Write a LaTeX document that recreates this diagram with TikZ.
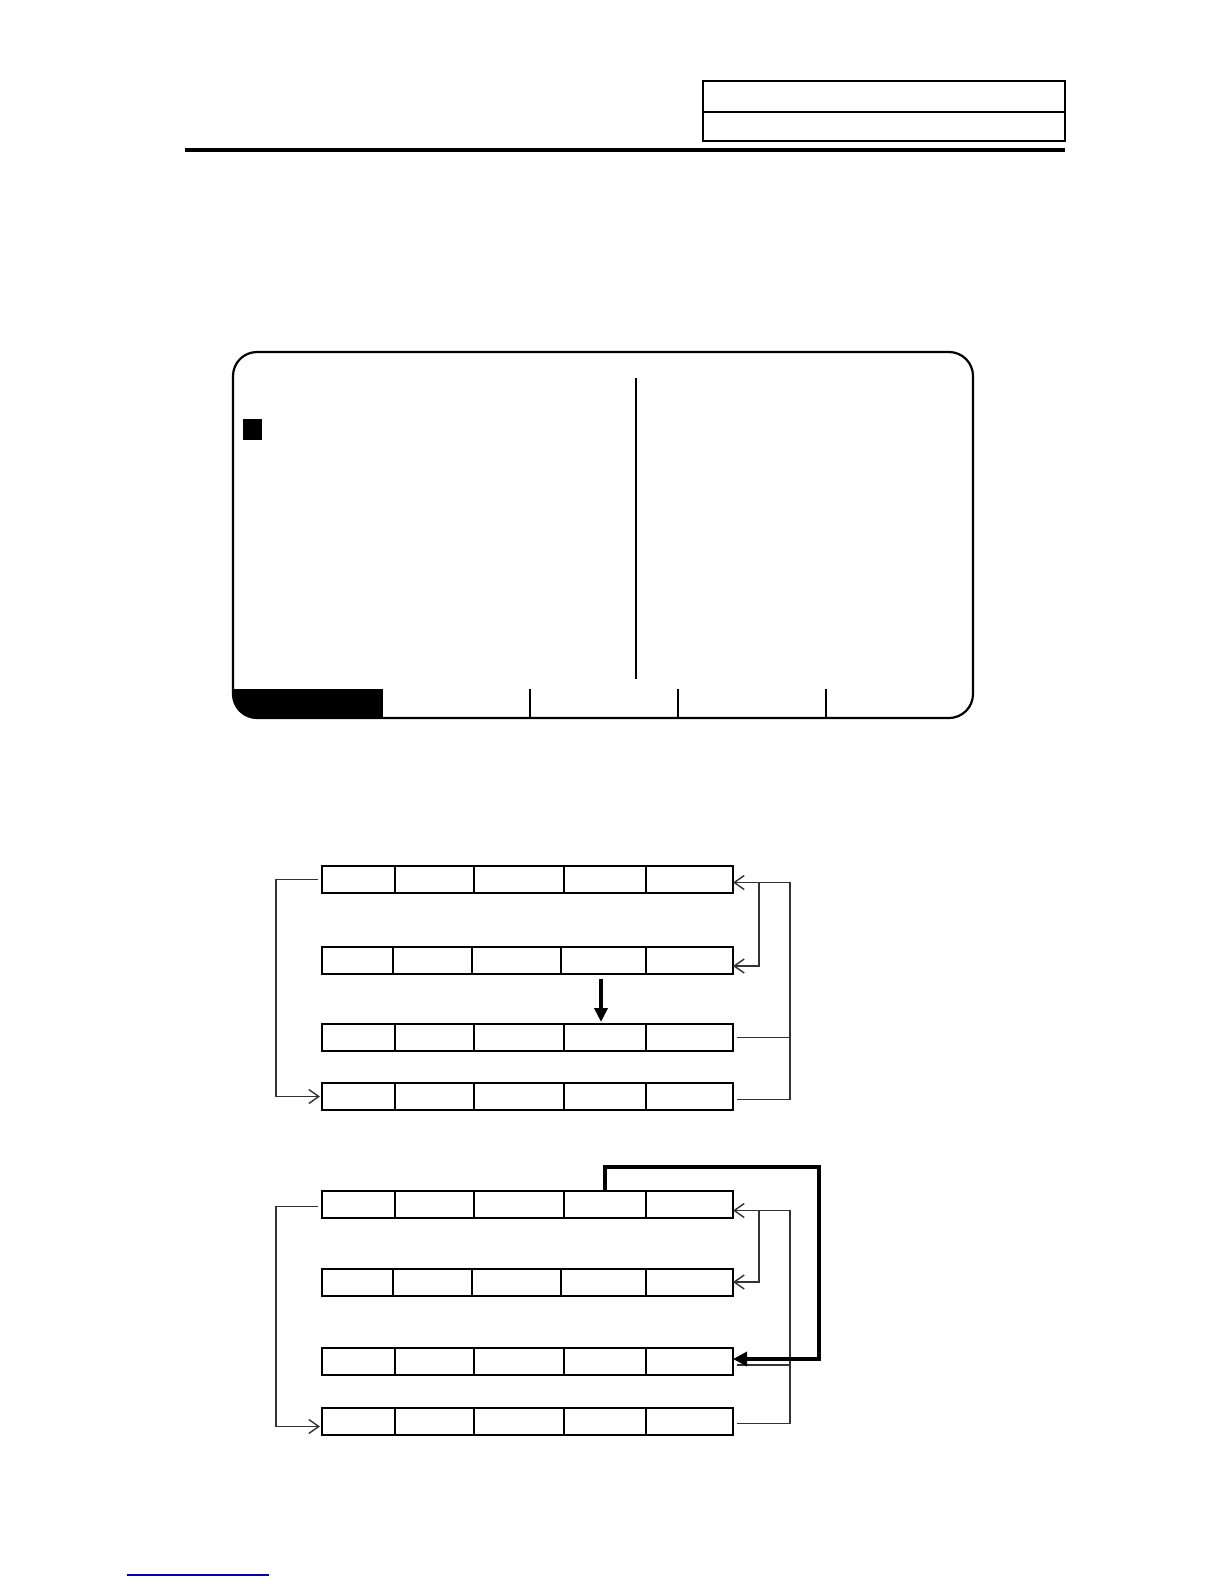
\documentclass[tikz,border=0pt]{standalone}
\usetikzlibrary{arrows.meta}

\begin{document}
\begin{tikzpicture}[
		x=0.5pt, y=-0.5pt,
		>={Straight Barb[length=5pt,width=7pt]},
		every row/.style={draw,line width=1pt,inner sep=0pt,outer sep=0pt,minimum width=205.5pt,minimum height=13.5pt},
		cell/.style={line width=0.9pt},
		link/.style={line width=0.7pt,black!80},
		fatlink/.style={line width=1.7pt,-{Triangle[length=7pt,width=7pt]}},
		downarrow/.style={line width=2pt,-{Triangle[length=7pt,width=6.5pt]}}
	]
		\useasboundingbox (0,0) rectangle (1224,1584);

		% Header
		\draw[line width=1pt] (703,81) rectangle (1065,141);
		\draw[line width=1pt] (703,112) -- (1065,112);
		\draw[line width=1.8pt] (185,150) -- (1065,150);

		% Screen
		\begin{scope}
			\clip[rounded corners=12pt] (233,352) rectangle (973,718);
			\fill (233,689) rectangle (383,718);
		\end{scope}
		\draw[line width=1.1pt,rounded corners=12pt] (233,352) rectangle (973,718);
		\fill (243,419) rectangle (262,440);
		\draw[line width=0.6pt] (636,378) -- (636,679);
		\foreach \x in {530,678,826}
			\draw[line width=0.6pt] (\x,689) -- (\x,718);

		% Rows, first diagram
		\node[every row] (r1) at (527.5,879.5) {};
		\node[every row] (r2) at (527.5,960) {};
		\node[every row] (r3) at (527.5,1037.5) {};
		\node[every row] (r4) at (527.5,1096.5) {};

		% Rows, second diagram
		\node[every row] (s1) at (527.5,1204.5) {};
		\node[every row] (s2) at (527.5,1282) {};
		\node[every row] (s3) at (527.5,1361) {};
		\node[every row] (s4) at (527.5,1421.5) {};

		% Cells
		\foreach \r in {r1,r3,r4,s1,s3,s4}
			\foreach \x in {395,474,564,646}
				\draw[cell] (\x,0 |- \r.north) -- (\x,0 |- \r.south);
		\foreach \r in {r2,s2}
			\foreach \x in {393,472,561,646}
				\draw[cell] (\x,0 |- \r.north) -- (\x,0 |- \r.south);

		% Buses
		\coordinate (lbus) at (276,0);
		\coordinate (rbus) at (790,0);
		\coordinate (tap) at (759,0);
		\coordinate (pick) at (601,0);
		\coordinate (hook) at (605,0);
		\coordinate (loopc) at (819,1167);
		\coordinate (r1in) at ([yshift=-1.5pt]r1.east);
		\coordinate (r2in) at ([yshift=-3pt]r2.east);
		\coordinate (s1in) at ([yshift=-3pt]s1.east);
		\coordinate (s3out) at ([xshift=2pt,yshift=-2pt]s3.east);
		\coordinate (s4in) at ([xshift=-1pt,yshift=-2.5pt]s4.west);

		% Links, first diagram
		\draw[link,->] ([xshift=-2pt]r1.west) -| (lbus |- r4.west) -- ([xshift=-1pt]r4.west);
		\draw[link,->] ([xshift=2pt,yshift=-1.5pt]r4.east) -| (rbus |- r1in) -- (r1in);
		\draw[link] ([xshift=2pt]r3.east) -- (rbus |- r3.east);
		\draw[link,->] (tap |- r1in) |- (r2in);
		\draw[downarrow] ([yshift=-2.5pt]pick |- r2.south) -- ([yshift=1pt]pick |- r3.north);

		% Links, second diagram
		\draw[link,->] ([xshift=-2pt,yshift=-1pt]s1.west) -| (lbus |- s4in) -- (s4in);
		\draw[link,->] ([xshift=2pt,yshift=-1pt]s4.east) -| (rbus |- s1in) -- (s1in);
		\draw[link] (s3out) -- (rbus |- s3out);
		\draw[link,->] (tap |- s1in) |- (s2.east);
		\draw[fatlink] (hook |- s1.north) |- (loopc) |- ([yshift=1pt]s3.east);

		% Link underline
		\draw[line width=0.6pt,blue!70!black] (127,1575) -- (269,1575);
	\end{tikzpicture}
\end{document}
